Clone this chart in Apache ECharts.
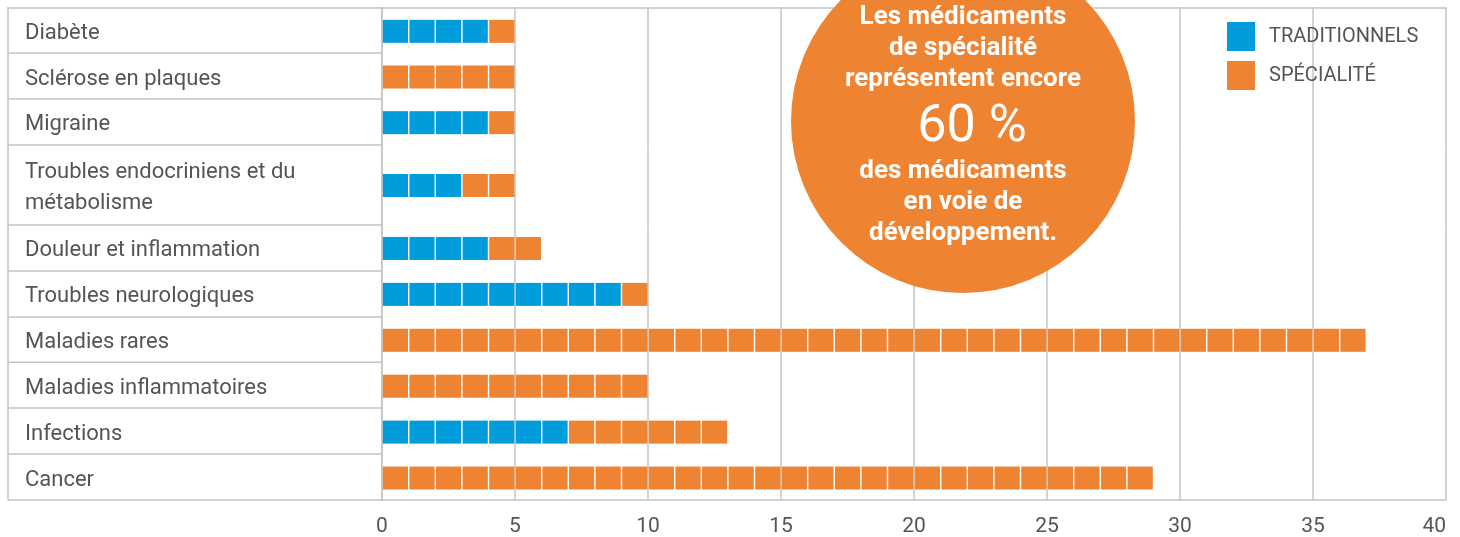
<!DOCTYPE html>
<html>
<head>
<meta charset="utf-8">
<script src="https://cdn.jsdelivr.net/npm/echarts@6/dist/echarts.min.js"></script>
<style>
  html, body { margin: 0; padding: 0; background: #fff; }
  #chart { width: 1460px; height: 537px; }
</style>
</head>
<body>
<div id="chart"></div>
<script>
// pipeline de médicaments par domaine thérapeutique
const categories = [
  'Diabète',
  'Sclérose en plaques',
  'Migraine',
  'Troubles endocriniens et du métabolisme',
  'Douleur et inflammation',
  'Troubles neurologiques',
  'Maladies rares',
  'Maladies inflammatoires',
  'Infections',
  'Cancer'
];
const traditionnels = [4, 0, 4, 3, 4, 9, 0, 0, 7, 0];
const specialite = [1, 5, 1, 2, 2, 1, 37, 10, 6, 29];
const seriesNames = ['TRADITIONNELS', 'SPÉCIALITÉ'];

const BLUE = '#009cdc';
const ORANGE = '#ee8331';
const LINE = '#c4c4c4';
const TEXT = '#555';
const FONT = 'Roboto';

// the endocrine row is taller, so the rows are split over three stacked grids
const groups = [[0, 3], [3, 4], [4, 10]];
const gridBoxes = [
  { top: 7.5, height: 137 },
  { top: 144.5, height: 80 },
  { top: 224.5, height: 276 }
];

const chart = echarts.init(document.getElementById('chart'));

function unitRender(color) {
  return function (params, api) {
    const cat = api.value(0);
    const start = api.value(1);
    const n = api.value(2);
    const unit = api.size([1, 0])[0];
    const children = [];
    for (let i = 0; i < n; i++) {
      const p = api.coord([start + i, cat]);
      children.push({
        type: 'rect',
        shape: { x: p[0] + 0.8, y: p[1] - 10.5, width: unit - 1.4, height: 23 },
        style: { fill: color }
      });
    }
    return { type: 'group', children: children };
  };
}

const grid = [], xAxis = [], yAxis = [], series = [];
groups.forEach(function (g, gi) {
  const cats = categories.slice(g[0], g[1]);
  grid.push({ left: 382, right: 14, top: gridBoxes[gi].top, height: gridBoxes[gi].height });
  xAxis.push({
    type: 'value',
    gridIndex: gi,
    min: 0,
    max: 40,
    interval: 5,
    position: gi === 0 ? 'top' : 'bottom',
    axisLine: { show: gi !== 1, lineStyle: { color: LINE, width: 1.5 } },
    axisTick: { show: false },
    axisLabel: {
      show: gi === 2,
      margin: 16,
      fontSize: 21,
      color: TEXT,
      fontFamily: FONT,
      alignMaxLabel: 'right'
    },
    splitLine: { show: true, lineStyle: { color: LINE, width: 1.5 } }
  });
  // label column
  yAxis.push({
    type: 'category',
    gridIndex: gi,
    inverse: true,
    data: cats,
    axisLine: { show: true, lineStyle: { color: LINE, width: 1.5 } },
    axisTick: { show: true, length: 374, lineStyle: { color: LINE, width: 1.5 } },
    axisLabel: {
      align: 'left',
      margin: 357,
      fontSize: 22,
      color: TEXT,
      fontFamily: FONT,
      width: 335,
      overflow: 'break',
      lineHeight: 31,
      formatter: function (v) { return '{a|' + v + '}'; },
      rich: {
        a: { fontSize: 22, color: TEXT, fontFamily: FONT, lineHeight: 31, padding: [6, 0, 0, 0] }
      }
    },
    splitLine: { show: false }
  });
  // outer left border of the label column
  yAxis.push({
    type: 'category',
    gridIndex: gi,
    inverse: true,
    data: cats,
    position: 'left',
    offset: 374,
    axisLine: { show: true, lineStyle: { color: LINE, width: 1.5 } },
    axisTick: { show: false },
    axisLabel: { show: false }
  });

  const tradData = [], specData = [];
  for (let i = g[0]; i < g[1]; i++) {
    tradData.push([i - g[0], 0, traditionnels[i]]);
    specData.push([i - g[0], traditionnels[i], specialite[i]]);
  }
  series.push({
    name: seriesNames[0],
    type: 'custom',
    xAxisIndex: gi,
    yAxisIndex: gi * 2,
    itemStyle: { color: BLUE },
    encode: { x: 1, y: 0 },
    renderItem: unitRender(BLUE),
    data: tradData
  });
  series.push({
    name: seriesNames[1],
    type: 'custom',
    xAxisIndex: gi,
    yAxisIndex: gi * 2,
    itemStyle: { color: ORANGE },
    encode: { x: 1, y: 0 },
    renderItem: unitRender(ORANGE),
    data: specData
  });
});

const calloutTop = 'Les médicaments\nde spécialité\nreprésentent encore';
const calloutBottom = 'des médicaments\nen voie de\ndéveloppement.';

const option = {
  animation: false,
  grid: grid,
  xAxis: xAxis,
  yAxis: yAxis,
  legend: {
    data: seriesNames,
    orient: 'vertical',
    left: 1227,
    top: 22,
    padding: 0,
    itemWidth: 28,
    itemHeight: 29,
    itemGap: 10,
    icon: 'rect',
    selectedMode: false,
    textStyle: { fontSize: 20, color: TEXT, fontFamily: FONT, padding: [2, 0, 0, 9] }
  },
  graphic: [
    {
      type: 'circle',
      z: 100,
      shape: { cx: 963, cy: 121, r: 172 },
      style: { fill: ORANGE }
    },
    {
      type: 'text',
      z: 101,
      x: 963,
      y: 2,
      style: {
        text: calloutTop,
        fill: '#fff',
        fontSize: 26,
        fontWeight: 'bold',
        fontFamily: FONT,
        lineHeight: 31,
        align: 'center',
        verticalAlign: 'top'
      }
    },
    {
      type: 'text',
      z: 101,
      x: 972,
      y: 128,
      style: {
        text: '60 %',
        fill: '#fff',
        fontSize: 52,
        fontFamily: FONT,
        align: 'center',
        verticalAlign: 'middle'
      }
    },
    {
      type: 'text',
      z: 101,
      x: 963,
      y: 155.5,
      style: {
        text: calloutBottom,
        fill: '#fff',
        fontSize: 26,
        fontWeight: 'bold',
        fontFamily: FONT,
        lineHeight: 31,
        align: 'center',
        verticalAlign: 'top'
      }
    }
  ],
  series: series
};

chart.setOption(option);
</script>
</body>
</html>
